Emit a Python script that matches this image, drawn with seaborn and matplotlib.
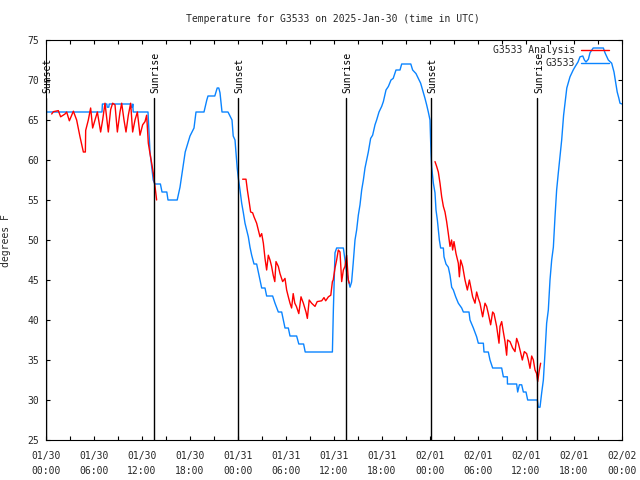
import numpy as np
import pandas as pd
import matplotlib
matplotlib.use("Agg")
import matplotlib.pyplot as plt
from matplotlib.lines import Line2D
import seaborn as sns

# ---------------- data (hours since 2025-01-30 00:00 UTC, degrees F) -------------
analysis_hours = [0, 7.0, 7.05, 7.6, 7.65, 7.85, 7.9, 10.6, 10.65, 10.8, 10.85, 10.9,
                  12.75, 13.0, 13.25, 13.4, 13.6, 14.3, 14.5, 15.1, 15.25, 16.4, 16.75,
                  17.4, 18.0, 18.5, 18.75, 19.75, 20.1, 20.25, 21.1, 21.4, 21.6, 21.75,
                  22.0, 22.75, 23.25, 23.4, 23.625, 23.9, 24.04, 24.25, 24.46, 24.67,
                  24.875, 25.29, 25.5, 25.71, 26.0, 26.33, 26.54, 26.75, 26.96, 27.375,
                  27.58, 28.33, 28.625, 29.04, 29.46, 29.67, 29.875, 30.29, 30.5, 31.33,
                  31.6, 32.2, 32.4, 35.8, 35.92, 36.125, 36.33, 37.17, 37.375, 37.58,
                  37.79, 38.0, 38.2, 38.4, 38.625, 38.83, 39.04, 39.25, 39.46, 39.67,
                  39.875, 40.08, 40.29, 40.58, 40.83, 41.125, 41.33, 41.625,
                  41.96, 42.17, 42.5, 42.8, 43.125, 43.4, 43.75, 44.25, 44.46, 45.6,
                  45.83, 46.25, 46.54, 46.83, 47.08, 47.375, 47.58, 47.79, 48.0, 48.08,
                  48.125, 48.21, 48.42, 48.625, 48.75, 48.92, 49.04, 49.17, 49.33, 49.67,
                  49.75, 50.0, 50.29, 50.5, 50.71, 50.92, 51.21, 51.54, 51.96, 52.17,
                  52.875, 53.0, 53.42, 53.83, 54.04, 54.67, 54.75, 55.29, 55.5, 55.83,
                  56.96, 57.17, 57.67, 57.68, 58.83, 58.96, 59.17, 59.46, 59.67, 60.0,
                  60.21, 61.42, 61.54, 61.75, 61.96, 62.17, 62.375, 62.58, 62.79, 63.0,
                  63.21, 63.42, 63.625, 63.83, 64.04, 64.25, 64.46, 64.7, 65.1, 65.5,
                  65.9, 66.1, 66.5, 66.75, 67.1, 67.3, 67.5, 67.8, 68.0, 68.4, 69.67,
                  69.875, 70.29, 70.71, 71.0, 71.2, 71.4, 71.6, 71.75, 72.0]
analysis_temps = [66, 66, 67, 67, 66.6, 66.6, 67, 67, 66.6, 66.6, 67, 66,
                  66, 61, 58.75, 57.5, 57, 57, 56, 56, 55, 55, 56.6,
                  61, 63, 64, 66, 66, 67.5, 68, 68, 69, 69, 68.4,
                  66, 66, 65, 63, 62.5, 59, 57.75, 56.25, 54.6, 53.4,
                  52.1, 50.4, 49.1, 48.1, 47, 47, 46, 45, 44, 44,
                  43, 43, 42.1, 41, 41, 40, 39, 39, 38, 38,
                  37, 37, 36, 36, 41.25, 48.4, 49, 49, 47.5, 46,
                  45, 44.1, 44.75, 47.1, 50, 51.25, 53.1, 54.4, 56.25, 57.5,
                  59, 60.0, 61.0, 62.7, 63.1, 64.4, 65.0, 66.0,
                  66.7, 67.3, 68.75, 69.2, 70.0, 70.2, 71.25, 71.25, 72, 72,
                  71.25, 70.8, 70.2, 69.6, 68.75, 67.7, 66.9, 66.0, 65.0, 62.3,
                  60.9, 59.1, 57.1, 55.9, 53.75, 52.5, 51.25, 50, 49, 49,
                  47.9, 47, 46.6, 45.6, 44.1, 43.75, 42.9, 42.1, 41.5, 41,
                  41, 40, 39, 37.9, 37.1, 37.1, 36, 36, 35, 34,
                  34, 32.9, 32.9, 32, 32, 31, 31.9, 31.9, 31, 31,
                  30, 30, 29.1, 29.1, 30.9, 32.5, 35.9, 39.6, 41.25, 45,
                  47.5, 49.1, 52.9, 56.25, 58.4, 60.4, 62.5, 65.6, 69, 70.4,
                  71.25, 71.6, 72.25, 72.9, 73, 72.5, 72.25, 72.6, 73.4, 74, 74,
                  73.4, 72.5, 72.1, 71, 69.75, 68.5, 67.75, 67.1, 67]

obs_night1_hours = [0.71, 0.92, 1.54, 1.83, 2.375, 2.58, 2.92, 3.42, 3.83, 4.25, 4.67,
                    4.92, 4.96, 5.29, 5.58, 5.83, 6.125, 6.42, 6.83, 7.08, 7.375, 7.79,
                    8.08, 8.33, 8.625, 8.92, 9.25, 9.46, 9.75, 10.0, 10.29, 10.58,
                    10.83, 11.125, 11.42, 11.75, 12.08, 12.375, 12.58, 12.79, 13.0,
                    13.21, 13.42, 13.625, 13.83]
obs_night1_temps = [65.75, 66.04, 66.17, 65.4, 65.75, 66.0, 64.9, 66.1, 65.0, 62.9, 61.0,
                    61.0, 63.7, 65.0, 66.5, 64.0, 65.0, 66.0, 63.5, 65.0, 67.1, 63.5,
                    66.3, 67.1, 66.9, 63.5, 66.0, 67.1, 65.0, 63.5, 65.6, 67.1,
                    63.5, 65.0, 66.0, 63.1, 64.4, 64.8, 65.6, 62.1, 60.8,
                    59.6, 58.3, 56.7, 55.0]

obs_night2_hours = [24.58, 25.0, 25.17, 25.42, 25.58, 25.83, 26.0, 26.33, 26.54, 26.75,
                    26.96, 27.17, 27.375, 27.58, 27.79, 28.0, 28.2, 28.4, 28.6, 28.75,
                    29.04, 29.25, 29.58, 29.875, 30.08, 30.29, 30.5, 30.7, 30.9, 31.1,
                    31.3, 31.6, 31.875, 32.17, 32.5, 32.67, 32.9, 33.2, 33.625, 33.9,
                    34.46, 34.75, 34.96, 35.3, 35.6, 35.8, 35.9, 36.125, 36.33, 36.54,
                    36.75, 36.96, 37.17, 37.375, 37.58, 37.79, 37.9]
obs_night2_temps = [57.6, 57.6, 56.25, 54.6, 53.5, 53.4, 52.9, 52.1, 51.25, 50.4,
                    50.8, 49.6, 47.7, 46.25, 48.1, 47.5, 46.7, 45.6, 44.8, 47.3,
                    46.7, 45.8, 44.8, 45.2, 43.75, 42.9, 42.1, 41.5, 43.3, 42.1,
                    41.7, 40.8, 42.9, 42.1, 41.0, 40.2, 42.5, 42.1, 41.7, 42.3,
                    42.4, 42.8, 42.4, 42.9, 43.1, 44.8, 45.0, 46.5, 47.5, 48.75,
                    48.5, 44.8, 46.25, 46.7, 48.1, 45.0, 44.6]

obs_night3_hours = [48.625, 48.83, 49.04, 49.25, 49.46, 49.67, 49.875, 50.08, 50.29, 50.5,
                    50.7, 50.83, 51.0, 51.25, 51.54, 51.67, 51.83, 52.08, 52.375, 52.67,
                    52.92, 53.08, 53.33, 53.625, 53.83, 54.04, 54.25, 54.58, 54.875,
                    55.08, 55.29, 55.58, 55.83, 56.0, 56.33, 56.625, 56.75, 56.96,
                    57.17, 57.375, 57.58, 57.7, 58.0, 58.33, 58.625, 58.83, 59.04,
                    59.25, 59.54, 59.79, 60.08, 60.29, 60.5, 60.71, 60.92, 61.125,
                    61.33, 61.46, 61.67, 61.83]
obs_night3_temps = [59.8, 59.2, 58.5, 57.1, 55.4, 54.2, 53.5, 52.3, 50.8, 49.2,
                    50.0, 48.75, 49.8, 48.3, 47.1, 45.4, 47.5, 46.7, 45.0, 43.75,
                    45.0, 44.2, 42.9, 42.1, 43.5, 42.7, 42.1, 40.4, 42.1,
                    41.7, 40.8, 39.4, 41.0, 40.8, 39.2, 37.1, 39.2, 39.8,
                    38.5, 37.3, 35.6, 37.5, 37.3, 36.5, 36.05, 37.7, 37.1,
                    36.25, 35.0, 36.05, 35.8, 35.0, 33.96, 35.5, 35.0, 33.75,
                    33.3, 32.3, 33.75, 34.6]

sun_hours = [0.0, 13.5, 24.03, 37.45, 48.07, 61.43]
sun_labels = ["Sunset", "Sunrise", "Sunset", "Sunrise", "Sunset", "Sunrise"]

xtick_hours = [0, 6, 12, 18, 24, 30, 36, 42, 48, 54, 60, 66, 72]
xtick_labels = ["01/30\n00:00", "01/30\n06:00", "01/30\n12:00", "01/30\n18:00",
                "01/31\n00:00", "01/31\n06:00", "01/31\n12:00", "01/31\n18:00",
                "02/01\n00:00", "02/01\n06:00", "02/01\n12:00", "02/01\n18:00",
                "02/02\n00:00"]
yticks = [25, 30, 35, 40, 45, 50, 55, 60, 65, 70, 75]

title = "Temperature for G3533 on 2025-Jan-30 (time in UTC)"
ylabel = "degrees F"
legend_labels = ["G3533 Analysis", "G3533"]

BLUE = "#0a84ff"
RED = "#ff0000"

# ---------------- tables ----------------
ana = pd.DataFrame({"hour": analysis_hours, "temp": analysis_temps, "seg": 0})
obs = pd.concat([
    pd.DataFrame({"hour": obs_night1_hours, "temp": obs_night1_temps, "seg": 1}),
    pd.DataFrame({"hour": obs_night2_hours, "temp": obs_night2_temps, "seg": 2}),
    pd.DataFrame({"hour": obs_night3_hours, "temp": obs_night3_temps, "seg": 3}),
], ignore_index=True)

# ---------------- figure ----------------
sns.set_style("white")
plt.rcParams["font.family"] = ["DejaVu Sans Mono", "DejaVu Sans"]
FS = 7

fig = plt.figure(figsize=(6.4, 4.8), dpi=100)
ax = fig.add_axes([46 / 640, 40 / 480, 576 / 640, 400 / 480])

sns.lineplot(data=ana, x="hour", y="temp", units="seg", estimator=None, sort=False,
             color=BLUE, linewidth=1.0, ax=ax)
sns.lineplot(data=obs, x="hour", y="temp", units="seg", estimator=None, sort=False,
             color=RED, linewidth=1.0, ax=ax)

ax.set_xlim(0, 72)
ax.set_ylim(25, 75)

vline_top = (440 - 98) / 400
for h, lab in zip(sun_hours, sun_labels):
    ax.axvline(h, ymin=0, ymax=vline_top, color="black", linewidth=1.0, zorder=3)
    ax.text(h + 0.2, 68.4, lab, rotation=90, ha="center", va="bottom",
            fontsize=FS, color="black")

ax.set_xticks(xtick_hours)
ax.set_xticklabels(xtick_labels, fontsize=FS, linespacing=1.55)
ax.set_xticks([h for h in range(3, 72, 6)], minor=True)
ax.set_yticks(yticks)
ax.set_yticklabels([str(v) for v in yticks], fontsize=FS)
ax.tick_params(which="both", direction="in", length=3, width=0.8, color="black",
               top=True, right=True, bottom=True, left=True)
ax.tick_params(axis="x", pad=8)
ax.tick_params(axis="y", pad=5)
ax.set_xlabel("")
ax.set_ylabel("")
for s in ax.spines.values():
    s.set_color("black")
    s.set_linewidth(0.8)

fig.text(333 / 640, 1 - 19 / 480, title, ha="center", va="center", fontsize=FS)
fig.text(6 / 640, 1 - 241 / 480, ylabel, rotation=90, ha="center", va="center",
         fontsize=FS)

handles = [Line2D([], [], color=RED, linewidth=1.0),
           Line2D([], [], color=BLUE, linewidth=1.0)]
ax.legend(handles, legend_labels, loc="upper right",
          bbox_to_anchor=((609 - 46) / 576, (440 - 45) / 400),
          frameon=False, markerfirst=False, fontsize=FS, handlelength=2.9,
          handletextpad=0.6, borderaxespad=0, borderpad=0, labelspacing=0.35)

fig.savefig("out.png", dpi=100)
